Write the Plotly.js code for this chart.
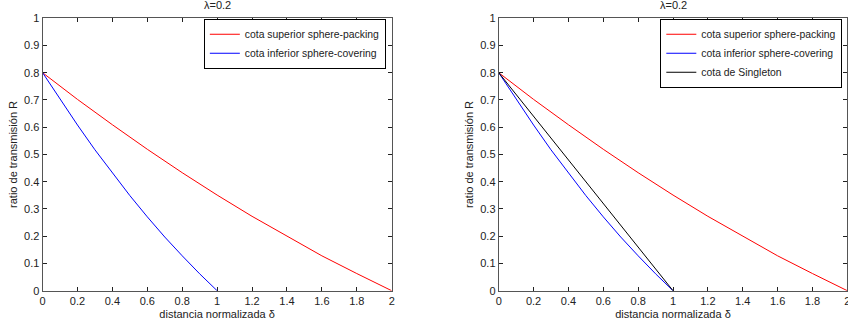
<!DOCTYPE html>
<html>
<head>
<meta charset="utf-8">
<script src="https://cdn.plot.ly/plotly-3.0.1.min.js"></script>
<style>html,body{margin:0;padding:0;background:#fff;}#chart{width:848px;height:329px;}</style>
</head>
<body>
<div id="chart"></div>
<script>
// Data
const deltaPacking = [0, 0.2, 0.4, 0.6, 0.8, 1.0, 1.2, 1.4, 1.6, 1.8, 2.0];
const ratePacking  = [0.8, 0.702, 0.609, 0.519, 0.433, 0.351, 0.273, 0.199, 0.128, 0.063, 0];
const deltaCovering = [0, 0.1, 0.2, 0.3, 0.4, 0.5, 0.6, 0.7, 0.8, 0.9, 1.0];
const rateCovering  = [0.8, 0.702, 0.608, 0.517, 0.431, 0.349, 0.271, 0.197, 0.128, 0.062, 0];
const deltaSingleton = [0, 1];
const rateSingleton  = [0.8, 0];
const names = ["cota superior sphere-packing", "cota inferior sphere-covering", "cota de Singleton"];
const titleText = "λ=0.2";
const xLabel = "distancia normalizada δ";
const yLabel = "ratio de transmisión R";

const FONT = {family: "'Liberation Sans', Arial, sans-serif", size: 11, color: "#222"};
const LFONT = {family: "'Liberation Sans', Arial, sans-serif", size: 10.4, color: "#222"};
const RED = "#ff0000", BLUE = "#0000ff", BLACK = "#000000";

const traces = [
  {x: deltaPacking, y: ratePacking, name: names[0], mode: "lines", line: {color: RED, width: 1}, xaxis: "x", yaxis: "y", legend: "legend"},
  {x: deltaCovering, y: rateCovering, name: names[1], mode: "lines", line: {color: BLUE, width: 1}, xaxis: "x", yaxis: "y", legend: "legend"},
  {x: deltaPacking, y: ratePacking, name: names[0], mode: "lines", line: {color: RED, width: 1}, xaxis: "x2", yaxis: "y2", legend: "legend2"},
  {x: deltaCovering, y: rateCovering, name: names[1], mode: "lines", line: {color: BLUE, width: 1}, xaxis: "x2", yaxis: "y2", legend: "legend2"},
  {x: deltaSingleton, y: rateSingleton, name: names[2], mode: "lines", line: {color: BLACK, width: 1}, xaxis: "x2", yaxis: "y2", legend: "legend2"}
];

function xax(domain, anchor) {
  return {
    domain: domain, anchor: anchor, range: [0, 2], tick0: 0, dtick: 0.2,
    ticks: "inside", ticklen: 4, tickcolor: "#222", mirror: "ticks",
    showline: true, linecolor: "#555", linewidth: 1, showgrid: false, zeroline: false,
    ticklabeloverflow: "allow",
    tickfont: FONT, title: {text: xLabel, font: FONT, standoff: 4}
  };
}
function yax(anchor) {
  return {
    domain: [0.1164, 0.9447], anchor: anchor, range: [0, 1], tick0: 0, dtick: 0.1,
    ticks: "inside", ticklen: 4, tickcolor: "#222", mirror: "ticks",
    showline: true, linecolor: "#555", linewidth: 1, showgrid: false, zeroline: false,
    tickfont: FONT, title: {text: yLabel, font: FONT, standoff: 4}
  };
}
const legendBase = {
  font: LFONT, bgcolor: "#fff", bordercolor: "#000", borderwidth: 1,
  xanchor: "right", yanchor: "top", y: 0.943, tracegroupgap: 0, itemwidth: 30
};

const layout = {
  width: 848, height: 329,
  margin: {l: 0, r: 0, t: 0, b: 0},
  paper_bgcolor: "#fff", plot_bgcolor: "#fff",
  font: FONT,
  showlegend: true,
  xaxis: xax([0.0502, 0.4619], "y"),
  yaxis: yax("x"),
  xaxis2: xax([0.5881, 0.9992], "y2"),
  yaxis2: yax("x2"),
  legend: Object.assign({}, legendBase, {x: 0.455}),
  legend2: Object.assign({}, legendBase, {x: 0.9933}),
  annotations: [
    {text: titleText, xref: "paper", yref: "paper", x: 0.2561, y: 0.985, xanchor: "center", yanchor: "middle", showarrow: false, font: FONT},
    {text: titleText, xref: "paper", yref: "paper", x: 0.7937, y: 0.985, xanchor: "center", yanchor: "middle", showarrow: false, font: FONT}
  ]
};

Plotly.newPlot("chart", traces, layout, {displayModeBar: false, staticPlot: true});
</script>
</body>
</html>
